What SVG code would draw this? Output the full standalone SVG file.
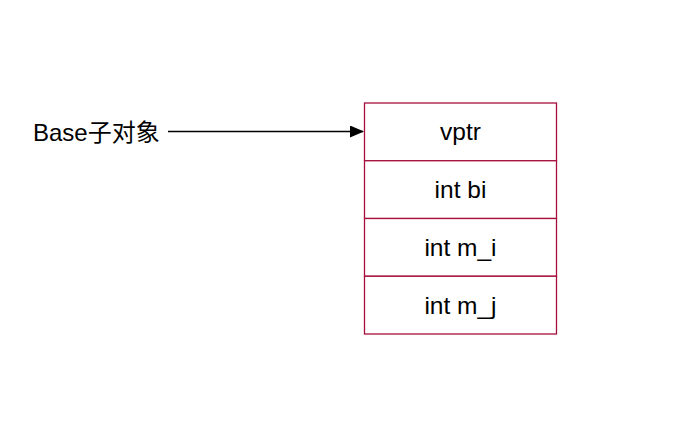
<svg xmlns="http://www.w3.org/2000/svg" width="674" height="424" viewBox="0 0 674 424">
<style>
.cell{fill:#ffffff;stroke:#a50f3c;stroke-width:1.3}
.t{font-family:"Liberation Sans","Noto Sans CJK SC",sans-serif;font-size:24.5px;fill:#000}
.l{font-size:24px}
.c{text-anchor:middle}
</style>
<defs>
<marker id="ah" markerWidth="14" markerHeight="12" refX="13" refY="6" orient="auto" markerUnits="userSpaceOnUse">
<path d="M0,0 L14,6 L0,12 Z" fill="#000"/>
</marker>
</defs>
<rect width="674" height="424" fill="#fff"/>
<g id="label">
<text class="t l" x="33" y="141">Base子对象</text>
</g>
<g id="connectors">
<line x1="168" y1="131.5" x2="363" y2="131.5" stroke="#000" stroke-width="1.3" marker-end="url(#ah)"/>
</g>
<g id="vptr">
<rect class="cell" x="364.5" y="103" width="192" height="57.75"/>
<text class="t c" x="460.5" y="140">vptr</text>
</g>
<g id="int_bi">
<rect class="cell" x="364.5" y="160.75" width="192" height="57.75"/>
<text class="t c" x="460.5" y="198">int bi</text>
</g>
<g id="int_m_i">
<rect class="cell" x="364.5" y="218.5" width="192" height="57.75"/>
<text class="t c" x="460.5" y="256">int m_i</text>
</g>
<g id="int_m_j">
<rect class="cell" x="364.5" y="276.25" width="192" height="57.75"/>
<text class="t c" x="460.5" y="314">int m_j</text>
</g>
</svg>
